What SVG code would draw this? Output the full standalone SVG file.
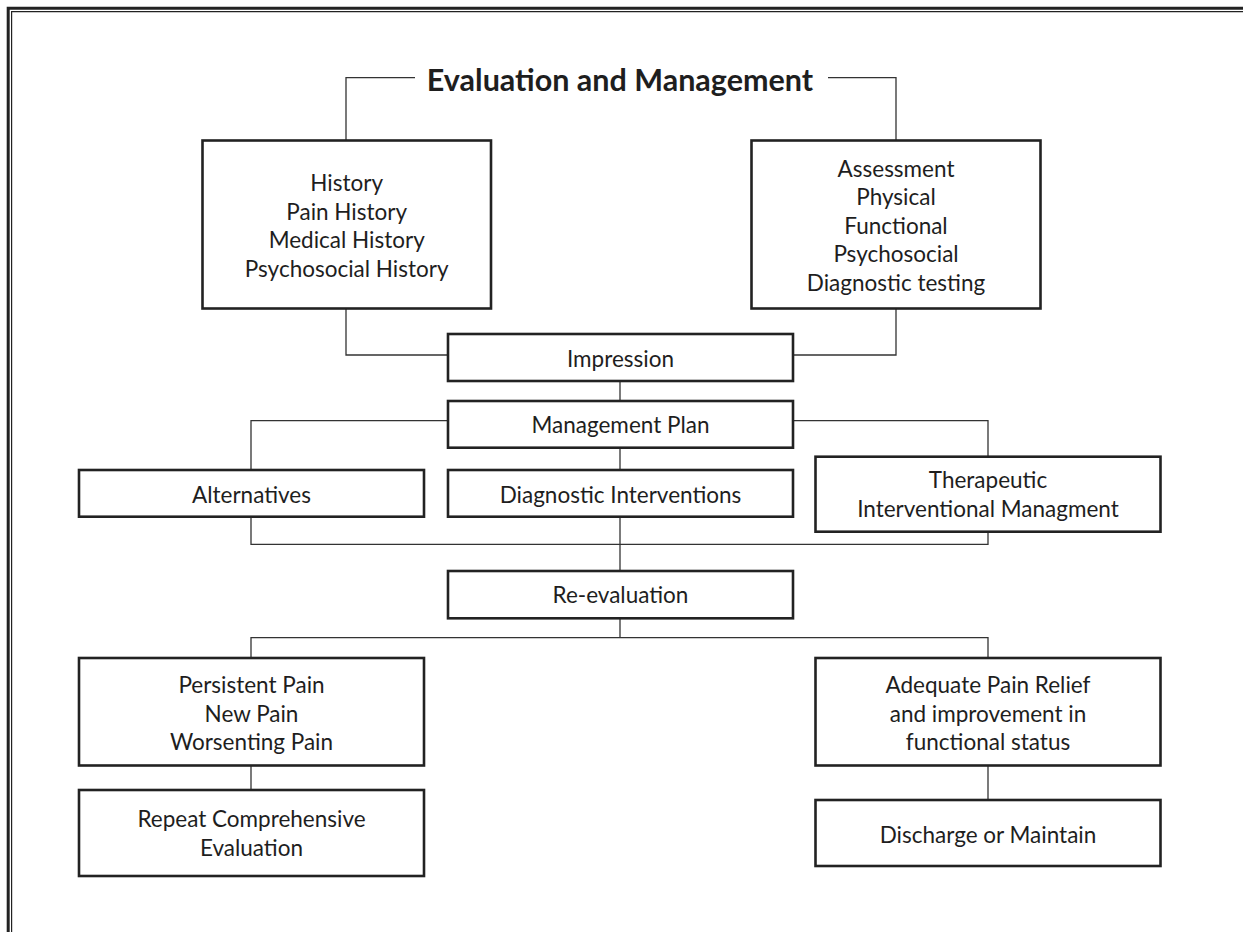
<svg xmlns="http://www.w3.org/2000/svg" width="1243" height="932" viewBox="0 0 1243 932">
<style>
.box{fill:#fff;stroke:#222;stroke-width:2.6}
.con{fill:none;stroke:#333;stroke-width:1.3}
.t{font-family:Lato,"Liberation Sans",sans-serif;font-size:22.5px;fill:#1e1e1e;text-anchor:middle}
.title{font-family:Lato,"Liberation Sans",sans-serif;font-size:30.5px;font-weight:bold;fill:#1e1e1e;text-anchor:middle}
.frame{fill:none;stroke:#222}
</style>
<rect width="1243" height="932" fill="#fff"/>
<g id="frame">
<path class="frame" d="M8.2,932 V8.2 H1243" stroke-width="3"/>
<path class="frame" d="M11.6,932 V11.6 H1243" stroke-width="1.2"/>
</g>
<g id="connectors">
<path class="con" d="M415,77.7 H346 V140"/>
<path class="con" d="M828,77.7 H896 V140"/>
<path class="con" d="M346,308.7 V355 H448"/>
<path class="con" d="M896,308.7 V355 H793"/>
<path class="con" d="M620,381 V401"/>
<path class="con" d="M448,420.7 H251 V470"/>
<path class="con" d="M793,420.7 H988 V456.7"/>
<path class="con" d="M620,447.7 V470"/>
<path class="con" d="M251,516.7 V544.3 H988 V531.7"/>
<path class="con" d="M620,516.7 V571"/>
<path class="con" d="M620,618.3 V637.7"/>
<path class="con" d="M251,658 V637.7 H988 V658"/>
<path class="con" d="M251,765.5 V790"/>
<path class="con" d="M988,765.5 V800"/>
</g>
<g id="title">
<text class="title" x="620" y="91">Evaluation and Management</text>
</g>
<g id="history">
<rect class="box" x="202.5" y="140.5" width="288.5" height="168"/>
<text class="t" x="346.7" y="191">History</text>
<text class="t" x="346.7" y="219.5">Pain History</text>
<text class="t" x="346.7" y="248">Medical History</text>
<text class="t" x="346.7" y="277">Psychosocial History</text>
</g>
<g id="assessment">
<rect class="box" x="751.5" y="140.5" width="289" height="168"/>
<text class="t" x="896" y="176.7">Assessment</text>
<text class="t" x="896" y="205">Physical</text>
<text class="t" x="896" y="233.7">Functional</text>
<text class="t" x="896" y="262.3">Psychosocial</text>
<text class="t" x="896" y="291">Diagnostic testing</text>
</g>
<g id="impression">
<rect class="box" x="448" y="334" width="345" height="47"/>
<text class="t" x="620.5" y="367.3">Impression</text>
</g>
<g id="management-plan">
<rect class="box" x="448" y="401" width="345" height="46.7"/>
<text class="t" x="620.5" y="433.3">Management Plan</text>
</g>
<g id="alternatives">
<rect class="box" x="79" y="470" width="345" height="46.7"/>
<text class="t" x="251.5" y="503.3">Alternatives</text>
</g>
<g id="diagnostic-interventions">
<rect class="box" x="448" y="470" width="345" height="46.7"/>
<text class="t" x="620.5" y="503.3">Diagnostic Interventions</text>
</g>
<g id="therapeutic">
<rect class="box" x="815.5" y="456.7" width="345" height="75"/>
<text class="t" x="988" y="488.3">Therapeutic</text>
<text class="t" x="988" y="517.3">Interventional Managment</text>
</g>
<g id="re-evaluation">
<rect class="box" x="448" y="571" width="345" height="47.3"/>
<text class="t" x="620.5" y="603.3">Re-evaluation</text>
</g>
<g id="persistent">
<rect class="box" x="79" y="658" width="345" height="107.5"/>
<text class="t" x="251.5" y="692.7">Persistent Pain</text>
<text class="t" x="251.5" y="721.7">New Pain</text>
<text class="t" x="251.5" y="750">Worsenting Pain</text>
</g>
<g id="adequate">
<rect class="box" x="815.5" y="658" width="345" height="107.5"/>
<text class="t" x="988" y="692.7">Adequate Pain Relief</text>
<text class="t" x="988" y="721.7">and improvement in</text>
<text class="t" x="988" y="750">functional status</text>
</g>
<g id="repeat">
<rect class="box" x="79" y="790" width="345" height="86"/>
<text class="t" x="251.5" y="827">Repeat Comprehensive</text>
<text class="t" x="251.5" y="856">Evaluation</text>
</g>
<g id="discharge">
<rect class="box" x="815.5" y="800" width="345" height="66"/>
<text class="t" x="988" y="842.7">Discharge or Maintain</text>
</g>
</svg>
